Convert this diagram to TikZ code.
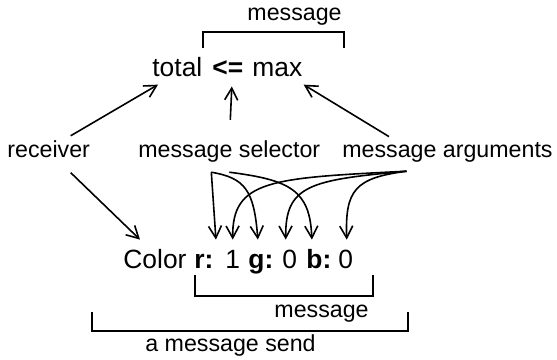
\documentclass[tikz,border=0pt]{standalone}
\usepackage{fontspec}
\setmainfont{Liberation Sans}
\usetikzlibrary{arrows.meta}

\begin{document}
\begin{tikzpicture}[x=0.5pt,y=-0.5pt,
  every node/.style={inner sep=0pt},
  lbl/.style={font=\fontsize{11.6}{14}\selectfont, anchor=base west},
  expr/.style={font=\fontsize{13.2}{16}\selectfont, anchor=base west, text height=9.5pt},
  arr/.style={-{Straight Barb[length=6pt,width=6.5pt,line width=0.8pt]}, line width=0.8pt},
  brk/.style={line width=0.8pt}]
\useasboundingbox (0,0) rectangle (557,359);

% the assignment
\node[expr] (total) at (152,76) {total};
\node[expr] (op) at (212,76) {\textbf{<=}};
\node[expr] (max) at (252,76) {max};
\draw[brk] (203,48) |- (344,32) -- (344,48);
\node[lbl, anchor=base east] (msgtop) at (342,20) {message};

% labels in the middle
\node[lbl] (recv) at (7,157) {receiver};
\node[lbl] (sel) at (138,157) {message selector};
\node[lbl] (args) at (342,157) {message arguments};

% the keyword message
\node[expr] (color) at (123,268) {Color};
\node[expr] (kr) at (194,268) {\textbf{r:}};
\node[expr] (vr) at (225,268) {1};
\node[expr] (kg) at (248,268) {\textbf{g:}};
\node[expr] (vg) at (282,268) {0};
\node[expr] (kb) at (306,268) {\textbf{b:}};
\node[expr] (vb) at (338,268) {0};
\draw[brk] (195,275) |- (373,296) -- (373,275);
\node[lbl, anchor=base east] (msgbot) at (369,317) {message};
\draw[brk] (92,312) |- (408,331) -- (408,312);
\node[lbl] (send) at (145,351) {a message send};

% arrows to the top line
\draw[arr] ([shift={(22,-4)}]recv.north) -- ([shift={(6,8)}]total.south west);
\draw[arr] ([shift={(1,-20)}]sel.north) -- ([shift={(4,10)}]op.south);
\draw[arr] ([shift={(47,-5)}]args.north west) -- ([shift={(1,8)}]max.south east);

% arrows to the bottom line
\draw[arr] ([shift={(22,15)}]recv.south) -- ([shift={(17,-9)}]color.north west);
\draw[arr] ([shift={(-18,10)}]sel.south) -- ([shift={(12,-9)}]kr.north);
\draw[arr] ([shift={(-18,10)}]sel.south) .. controls (245,178) and (254,190) .. ([shift={(-3,-9)}]kg.north);
\draw[arr] ([shift={(0,10)}]sel.south) .. controls (290,180) and (310,190) .. ([shift={(-7,-9)}]kb.north);
\draw[arr] ([shift={(-41,9)}]args.south) .. controls (270,178) and (232,180) .. ([shift={(0,-9)}]vr.north);
\draw[arr] ([shift={(-41,9)}]args.south) .. controls (310,180) and (285,185) .. ([shift={(-4,-9)}]vg.north);
\draw[arr] ([shift={(-41,9)}]args.south) .. controls (355,178) and (345,190) .. ([shift={(1,-9)}]vb.north);
\end{tikzpicture}
\end{document}
